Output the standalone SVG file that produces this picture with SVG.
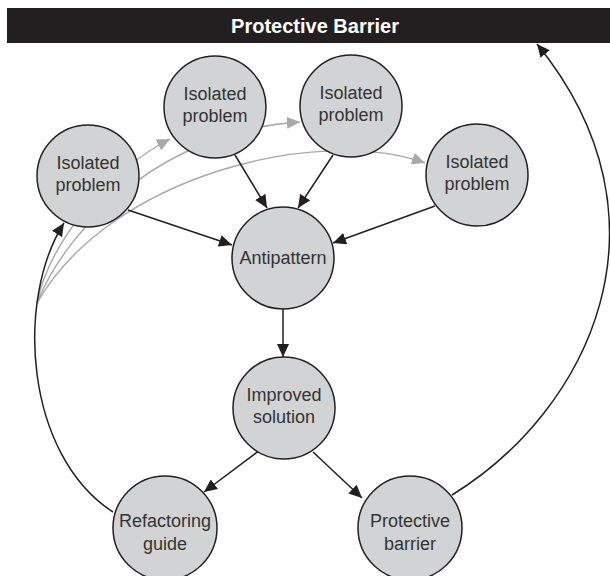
<svg xmlns="http://www.w3.org/2000/svg" width="610" height="576" viewBox="0 0 610 576">
<style>
.node circle{fill:#d2d3d5;stroke:#231f20;stroke-width:1.5}
.node text{font-family:"Liberation Sans",Arial,sans-serif;font-size:18px;fill:#333;text-anchor:middle}
.blk{fill:none;stroke:#231f20;stroke-width:1.5}
.gry{fill:none;stroke:#a8a8a8;stroke-width:1.4}
.title{font-family:"Liberation Sans",Arial,sans-serif;font-size:20px;font-weight:bold;fill:#fff;text-anchor:middle}
</style>
<defs>
<marker id="ab" markerUnits="userSpaceOnUse" markerWidth="14" markerHeight="12" refX="13" refY="6" orient="auto"><path d="M0,0 L13,6 L0,12 z" fill="#231f20"/></marker>
<marker id="ag" markerUnits="userSpaceOnUse" markerWidth="14" markerHeight="12" refX="13" refY="6" orient="auto"><path d="M0,0 L13,6 L0,12 z" fill="#a8a8a8"/></marker>
</defs>
<rect width="610" height="576" fill="#fff"/>
<g id="banner">
<rect x="7" y="8" width="603" height="35" fill="#231f20"/>
<text class="title" x="315" y="33">Protective Barrier</text>
</g>
<g id="connectors">
<path class="gry" d="M37,303 C50,240 110,170 170,139" marker-end="url(#ag)"/>
<path class="gry" d="M37,303 C70,220 170,130 300,122" marker-end="url(#ag)"/>
<path class="gry" d="M37,303 C110,175 320,125 425,163" marker-end="url(#ag)"/>
<path class="blk" d="M128,210 L232,245" marker-end="url(#ab)"/>
<path class="blk" d="M235,155 L267,208" marker-end="url(#ab)"/>
<path class="blk" d="M333,155 L298,208" marker-end="url(#ab)"/>
<path class="blk" d="M435,206 L333,243" marker-end="url(#ab)"/>
<path class="blk" d="M283,309 L283,357" marker-end="url(#ab)"/>
<path class="blk" d="M260,450 L204,492" marker-end="url(#ab)"/>
<path class="blk" d="M313,452 L362,498" marker-end="url(#ab)"/>
<path class="blk" d="M452,495 C590,410 680,220 537,44" marker-end="url(#ab)"/>
<path class="blk" d="M113,512 C25,455 15,300 64,223" marker-end="url(#ab)"/>
</g>
<g id="n1" class="node"><circle cx="88" cy="176" r="51"/><text x="88" y="169">Isolated</text><text x="88" y="191">problem</text></g>
<g id="n2" class="node"><circle cx="215" cy="107" r="51"/><text x="215" y="100">Isolated</text><text x="215" y="122">problem</text></g>
<g id="n3" class="node"><circle cx="351" cy="106" r="51"/><text x="351" y="99">Isolated</text><text x="351" y="121">problem</text></g>
<g id="n4" class="node"><circle cx="477" cy="175" r="51"/><text x="477" y="168">Isolated</text><text x="477" y="190">problem</text></g>
<g id="antipattern" class="node"><circle cx="283" cy="258" r="51"/><text x="283" y="264">Antipattern</text></g>
<g id="improved" class="node"><circle cx="284" cy="408" r="51"/><text x="284" y="401">Improved</text><text x="284" y="423">solution</text></g>
<g id="refactoring" class="node"><circle cx="165" cy="528" r="52"/><text x="165" y="527">Refactoring</text><text x="165" y="550">guide</text></g>
<g id="protective" class="node"><circle cx="410" cy="528" r="52"/><text x="410" y="527">Protective</text><text x="410" y="550">barrier</text></g>
</svg>
